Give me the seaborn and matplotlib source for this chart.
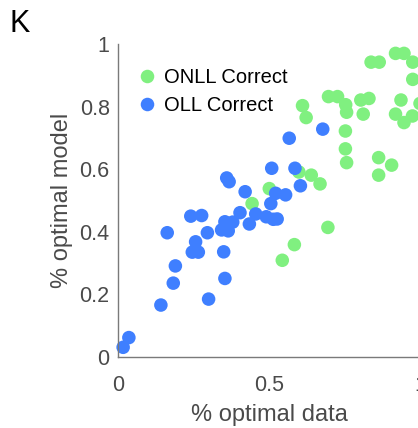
import numpy as np
import pandas as pd
import matplotlib
matplotlib.use("Agg")
import matplotlib.pyplot as plt
import seaborn as sns

onll_x = [0.611, 0.623, 0.697, 0.727, 0.754, 0.757, 0.804, 0.831, 0.812, 0.838,
          0.865, 0.919, 0.947, 0.976, 0.976, 0.937, 0.919, 0.947, 0.975, 1.000,
          0.753, 0.753, 0.757, 0.863, 0.906, 0.863, 0.599, 0.640, 0.669, 0.501,
          0.444, 0.695, 0.584, 0.544]
onll_y = [0.803, 0.765, 0.832, 0.832, 0.806, 0.782, 0.821, 0.826, 0.776, 0.942,
          0.942, 0.970, 0.970, 0.942, 0.887, 0.821, 0.776, 0.749, 0.770, 0.810,
          0.722, 0.665, 0.621, 0.637, 0.613, 0.581, 0.591, 0.581, 0.553, 0.538,
          0.490, 0.414, 0.359, 0.309]

oll_x = [0.678, 0.567, 0.360, 0.368, 0.509, 0.586, 0.421, 0.604, 0.522, 0.555,
         0.506, 0.404, 0.456, 0.491, 0.514, 0.527, 0.435, 0.354, 0.380, 0.343,
         0.365, 0.241, 0.277, 0.163, 0.296, 0.257, 0.246, 0.266, 0.350, 0.190,
         0.183, 0.354, 0.300, 0.142, 0.036, 0.017]
oll_y = [0.728, 0.699, 0.572, 0.560, 0.603, 0.603, 0.528, 0.547, 0.523, 0.518,
         0.490, 0.461, 0.457, 0.448, 0.440, 0.441, 0.425, 0.432, 0.431, 0.406,
         0.403, 0.450, 0.452, 0.397, 0.397, 0.368, 0.335, 0.335, 0.336, 0.291,
         0.236, 0.251, 0.185, 0.166, 0.062, 0.031]

groups = ["ONLL Correct", "OLL Correct"]
colors = {"ONLL Correct": "#80F080", "OLL Correct": "#3F7FFF"}
x_ticks = [0, 0.5, 1]
x_ticklabels = ["0", "0.5", "1"]
y_ticks = [0, 0.2, 0.4, 0.6, 0.8, 1]
y_ticklabels = ["0", "0.2", "0.4", "0.6", "0.8", "1"]

df = pd.DataFrame({
    "data": onll_x + oll_x,
    "model": onll_y + oll_y,
    "group": [groups[0]] * len(onll_x) + [groups[1]] * len(oll_x),
})

sns.set_style("white")
plt.rcParams["font.family"] = ["Liberation Sans", "DejaVu Sans"]

fig = plt.figure(figsize=(4.18, 4.28), dpi=100)
ax = fig.add_axes([118 / 418, 1 - 357 / 428, 302 / 418, 313 / 428])

sns.scatterplot(data=df, x="data", y="model", hue="group", hue_order=groups,
                palette=colors, s=95, linewidth=0, ax=ax, clip_on=False, legend=True)

ax.set_xlim(0, 1)
ax.set_ylim(0, 1)
ax.set_xticks(x_ticks)
ax.set_xticklabels(x_ticklabels)
ax.set_yticks(y_ticks)
ax.set_yticklabels(y_ticklabels)
for s in ["top", "right"]:
    ax.spines[s].set_visible(False)
for s in ["left", "bottom"]:
    ax.spines[s].set_color("#7a7a7a")
    ax.spines[s].set_linewidth(1.0)
ax.tick_params(direction="in", length=4, width=1, color="#7a7a7a",
               labelcolor="#4a4a4a", labelsize=15.5)
ax.tick_params(axis="y", pad=6)
ax.tick_params(axis="x", pad=13)
ax.set_xlabel("% optimal data", fontsize=17, color="#4a4a4a", labelpad=6)
ax.set_ylabel("% optimal model", fontsize=17, color="#4a4a4a", labelpad=5)

leg = ax.legend(loc="upper left", bbox_to_anchor=(0.03, 0.95), frameon=False,
                fontsize=14.5, handletextpad=0.25, labelspacing=0.45,
                borderaxespad=0, handlelength=1.2, markerscale=1.0)
for t in leg.get_texts():
    t.set_color("black")

fig.text(9 / 418, 1 - 9 / 428, "K", fontsize=22, color="black", va="top", ha="left")

fig.savefig("out.png", dpi=100)
